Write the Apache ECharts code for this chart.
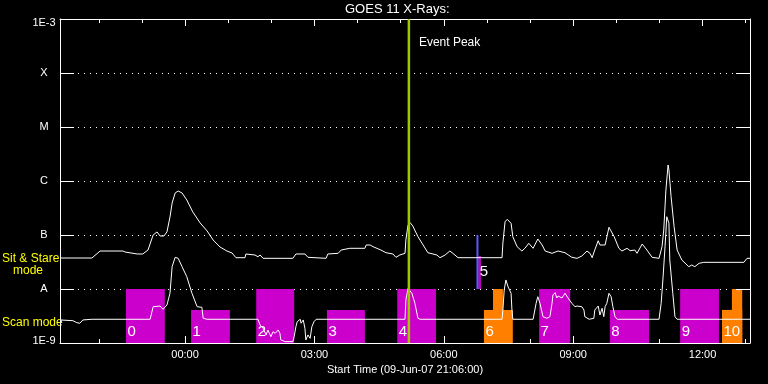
<!DOCTYPE html>
<html>
<head>
<meta charset="utf-8">
<script src="https://cdn.jsdelivr.net/npm/echarts@6/dist/echarts.min.js"></script>
<style>
html,body{margin:0;padding:0;background:#000;}
#chart{width:768px;height:384px;}
</style>
</head>
<body>
<div id="chart"></div>
<script>
// ---- data (time in hours relative to 10-Jun-07 00:00, flux in W/m^2) ----
const titleText = 'GOES 11 X-Rays:';
const xAxisTitle = 'Start Time (09-Jun-07 21:06:00)';
const timeMin = -2.9, timeMax = 13.1;
const xMajorHours = [0, 3, 6, 9, 12];
const xMajorLabels = ['00:00', '03:00', '06:00', '09:00', '12:00'];
const xMinorHours = [-2, -1, 0, 1, 2, 3, 4, 5, 6, 7, 8, 9, 10, 11, 12, 13];
const yTickLabels = ['1E-9', 'A', 'B', 'C', 'M', 'X', '1E-3'];
const fluxMin = 1e-9, fluxMax = 1e-3;

// long-wavelength channel (upper curve)
const longChannel = [
  [-2.90,3.75e-8],[-2.16,3.75e-8],[-2.13,4.08e-8],[-1.97,5.05e-8],[-1.44,5.05e-8],[-1.39,4.84e-8],
  [-1.11,4.45e-8],[-0.98,4.45e-8],[-0.86,5.27e-8],[-0.74,1.0e-7],[-0.65,1.14e-7],[-0.58,9.58e-8],
  [-0.49,9.58e-8],[-0.42,1.14e-7],[-0.35,2.15e-7],[-0.30,3.91e-7],[-0.23,6.0e-7],[-0.16,6.53e-7],
  [-0.07,6.0e-7],[0.04,4.45e-7],[0.18,2.67e-7],[0.35,1.67e-7],[0.51,1.19e-7],[0.65,8.08e-8],
  [0.81,6.0e-8],[0.97,5.05e-8],[1.09,4.64e-8],[1.18,3.80e-8],[1.39,3.80e-8],[1.41,4.45e-8],
  [1.62,4.26e-8],[1.69,3.96e-8],[1.74,4.26e-8],[1.81,3.70e-8],[2.50,3.70e-8],[2.57,4.45e-8],
  [2.78,4.45e-8],[2.85,3.86e-8],[3.27,3.70e-8],[3.31,4.45e-8],[3.55,4.58e-8],[3.62,5.27e-8],
  [3.82,5.67e-8],[4.17,5.67e-8],[4.20,6.53e-8],[4.29,6.53e-8],[4.36,6.07e-8],[4.54,5.27e-8],
  [4.66,4.70e-8],[4.82,4.45e-8],[4.89,3.86e-8],[4.98,4.26e-8],[5.10,4.58e-8],[5.12,8.08e-8],
  [5.17,1.53e-7],[5.22,1.69e-7],[5.28,1.47e-7],[5.40,9.30e-8],[5.52,6.53e-8],[5.63,4.70e-8],
  [5.84,4.26e-8],[5.91,3.80e-8],[6.03,4.26e-8],[6.14,5.05e-8],[6.21,4.58e-8],[6.33,3.80e-8],
  [7.35,3.80e-8],[7.37,7.11e-8],[7.42,1.76e-7],[7.47,1.95e-7],[7.56,1.65e-7],[7.60,9.30e-8],
  [7.70,6.07e-8],[7.81,5.05e-8],[7.88,5.67e-8],[7.97,7.02e-8],[8.07,5.67e-8],[8.18,8.43e-8],
  [8.28,6.53e-8],[8.35,5.05e-8],[8.51,4.58e-8],[8.65,5.05e-8],[8.81,4.70e-8],[8.97,3.86e-8],
  [9.09,3.70e-8],[9.20,4.08e-8],[9.32,5.05e-8],[9.39,4.58e-8],[9.44,3.80e-8],[9.50,5.27e-8],
  [9.58,7.84e-8],[9.62,6.53e-8],[9.74,6.53e-8],[9.83,1.39e-7],[9.95,9.30e-8],[10.06,5.67e-8],
  [10.13,5.05e-8],[10.25,5.67e-8],[10.32,5.12e-8],[10.43,5.27e-8],[10.48,4.58e-8],[10.60,6.81e-8],
  [10.71,5.27e-8],[10.83,3.86e-8],[10.99,3.70e-8],[11.06,6.07e-8],[11.10,1.24e-7],[11.15,6.81e-7],
  [11.20,1.98e-6],[11.22,1.60e-6],[11.27,5.12e-7],[11.34,1.43e-7],[11.41,5.27e-8],[11.52,3.44e-8],
  [11.68,2.59e-8],[11.75,2.78e-8],[11.82,2.59e-8],[11.92,2.99e-8],[12.03,3.12e-8],[12.96,3.12e-8],
  [13.03,3.70e-8],[13.10,3.70e-8]
];

// short-wavelength channel (lower curve)
const shortChannel = [
  [-2.90,2.67e-9],[-2.60,2.59e-9],[-2.51,2.38e-9],[-2.44,2.32e-9],[-2.37,2.67e-9],[-2.16,2.75e-9],
  [-0.81,2.75e-9],[-0.74,4.70e-9],[-0.58,4.84e-9],[-0.51,4.21e-9],[-0.42,5.05e-9],[-0.35,8.33e-9],
  [-0.30,2.59e-8],[-0.23,3.86e-8],[-0.16,3.70e-8],[-0.07,2.59e-8],[0.04,1.69e-8],[0.16,8.33e-9],
  [0.28,4.70e-9],[0.39,4.58e-9],[0.42,2.87e-9],[0.51,2.75e-9],[1.69,2.75e-9],[1.74,2.15e-9],
  [1.81,1.87e-9],[1.88,1.41e-9],[1.92,1.74e-9],[1.99,1.31e-9],[2.04,1.62e-9],[2.09,1.51e-9],
  [2.16,1.74e-9],[2.20,1.51e-9],[2.22,1.14e-9],[2.32,1.06e-9],[2.50,1.06e-9],[2.53,1.31e-9],
  [2.57,2.0e-9],[2.60,2.48e-9],[2.67,2.75e-9],[2.69,2.32e-9],[2.74,2.67e-9],[2.78,1.87e-9],
  [2.80,1.14e-9],[2.85,1.41e-9],[2.90,1.22e-9],[2.94,2.0e-9],[2.99,2.48e-9],[3.04,2.75e-9],
  [5.10,2.75e-9],[5.12,6.26e-9],[5.17,1.03e-8],[5.26,8.33e-9],[5.33,5.43e-9],[5.40,2.87e-9],
  [5.45,2.75e-9],[7.35,2.75e-9],[7.37,4.08e-9],[7.40,9.58e-9],[7.44,1.47e-8],[7.49,1.10e-8],
  [7.56,8.33e-9],[7.58,4.08e-9],[7.60,2.75e-9],[8.07,2.75e-9],[8.14,5.43e-9],[8.18,7.20e-9],
  [8.23,5.43e-9],[8.30,3.07e-9],[8.39,2.87e-9],[8.46,3.07e-9],[8.51,5.43e-9],[8.53,7.74e-9],
  [8.58,8.54e-9],[8.62,6.81e-9],[8.65,7.42e-9],[8.74,6.81e-9],[8.81,8.33e-9],[8.88,6.81e-9],
  [8.97,5.43e-9],[9.04,4.70e-9],[9.09,4.84e-9],[9.20,4.70e-9],[9.25,4.08e-9],[9.27,3.07e-9],
  [9.37,2.75e-9],[9.48,2.87e-9],[9.50,4.08e-9],[9.58,4.84e-9],[9.62,3.30e-9],[9.67,4.39e-9],
  [9.71,3.07e-9],[9.74,4.70e-9],[9.78,5.43e-9],[9.83,8.33e-9],[9.85,8.91e-9],[9.88,7.20e-9],
  [9.92,4.70e-9],[9.97,3.07e-9],[10.02,2.75e-9],[10.99,2.75e-9],[11.04,5.43e-9],[11.08,1.47e-8],
  [11.13,6.07e-8],[11.17,2.18e-7],[11.22,1.65e-7],[11.24,3.44e-8],[11.31,8.33e-9],[11.36,3.07e-9],
  [11.41,2.75e-9],[13.10,2.75e-9]
];

// observation windows
const windowLabel = ['0', '1', '2', '3', '4', '5', '6', '7', '8', '9', '10'];
const windowStart = [-1.37, 0.14, 1.65, 3.29, 4.92, 6.80, 6.93, 8.21, 9.85, 11.48, 12.45];
const windowEnd   = [-0.47, 1.04, 2.53, 4.17, 5.82, 6.86, 7.60, 8.93, 10.76, 12.38, 12.92];
const windowLow   = [1e-9, 1e-9, 1e-9, 1e-9, 1e-9, 1e-8, 1e-9, 1e-9, 1e-9, 1e-9, 1e-9];
const windowHigh  = [1e-8, 4.1e-9, 1e-8, 4.1e-9, 1e-8, 4.1e-8, 4.1e-9, 1e-8, 4.1e-9, 1e-8, 4.1e-9];
const windowKind  = ['m', 'm', 'm', 'm', 'm', 'm', 'o', 'm', 'm', 'm', 'o'];
// extra raised steps inside the orange windows
const stepStart = [7.14, 12.68];
const stepEnd   = [7.37, 12.92];
const stepHigh  = [1e-8, 1e-8];
// markers
const eventPeakHour = 5.19;
const sitStareHour = 6.78;
const sitStareLow = 1e-8, sitStareHigh = 1e-7;

// ---- chart ----
const FONT = 'Liberation Sans, Arial, sans-serif';
const kindColor = { m: '#cc00cc', o: '#ff8000' };
const chart = echarts.init(document.getElementById('chart'), null, { renderer: 'canvas' });

const windowData = windowLabel.map((l, i) => [windowStart[i], windowEnd[i], windowLow[i], windowHigh[i]]);
const stepData = stepStart.map((s, i) => [s, stepEnd[i], 1e-9, stepHigh[i]]);

function rectItem(api, color) {
  const p0 = api.coord([api.value(0), api.value(2)]);
  const p1 = api.coord([api.value(1), api.value(3)]);
  return {
    type: 'rect',
    shape: { x: p0[0], y: p1[1], width: p1[0] - p0[0], height: p0[1] - p1[1] },
    style: { fill: color }
  };
}

const hiddenX = {
  type: 'value', min: timeMin, max: timeMax, splitLine: { show: false },
  axisLabel: { show: false }, axisLine: { show: false }
};

const option = {
  backgroundColor: '#000',
  animation: false,
  grid: { left: 60, top: 19, width: 690, height: 324, containLabel: false },
  graphic: [
    { type: 'text', left: 397 - 52, top: 3, style: { text: titleText, fill: '#fff', font: '13px ' + FONT } },
    { type: 'text', x: 2, y: 259, style: { text: 'Sit & Stare', fill: '#ffff00', font: '12px ' + FONT, verticalAlign: 'middle' } },
    { type: 'text', x: 13, y: 271, style: { text: 'mode', fill: '#ffff00', font: '12px ' + FONT, verticalAlign: 'middle' } },
    { type: 'text', x: 2, y: 323, style: { text: 'Scan mode', fill: '#ffff00', font: '12px ' + FONT, verticalAlign: 'middle' } }
  ],
  xAxis: [
    {
      type: 'value', position: 'bottom', min: timeMin, max: timeMax,
      axisLine: { show: true, onZero: false, lineStyle: { color: '#fff', width: 1 } },
      axisTick: { show: true, inside: true, length: 7, customValues: xMajorHours, lineStyle: { color: '#fff' } },
      axisLabel: {
        show: true, customValues: xMajorHours, color: '#fff', fontSize: 11, fontFamily: FONT, margin: 6,
        formatter: v => xMajorLabels[xMajorHours.indexOf(Math.round(v))] || ''
      },
      splitLine: { show: false },
      name: xAxisTitle, nameLocation: 'middle', nameGap: 20,
      nameTextStyle: { color: '#fff', fontSize: 11, fontFamily: FONT }
    },
    Object.assign({}, hiddenX, { position: 'bottom',
      axisTick: { show: true, inside: true, length: 4, customValues: xMinorHours, lineStyle: { color: '#fff' } } }),
    Object.assign({}, hiddenX, { position: 'top',
      axisLine: { show: true, onZero: false, lineStyle: { color: '#fff', width: 1 } },
      axisTick: { show: true, inside: true, length: 7, customValues: xMajorHours, lineStyle: { color: '#fff' } } }),
    Object.assign({}, hiddenX, { position: 'top',
      axisTick: { show: true, inside: true, length: 4, customValues: xMinorHours, lineStyle: { color: '#fff' } } })
  ],
  yAxis: [
    {
      type: 'log', logBase: 10, min: fluxMin, max: fluxMax, interval: 1, position: 'left',
      axisLine: { show: true, onZero: false, lineStyle: { color: '#fff', width: 1 } },
      axisTick: { show: true, inside: true, length: 14, lineStyle: { color: '#fff' } },
      axisLabel: {
        color: '#fff', fontSize: 11, fontFamily: FONT, align: 'center', margin: 16,
        formatter: v => {
          const k = Math.round(Math.log10(v)) + 9;
          const t = yTickLabels[k] || '';
          if (k === 6) return '{top|' + t + '}';
          if (k === 0) return '{bot|' + t + '}';
          return t;
        },
        rich: {
          top: { color: '#fff', fontSize: 11, fontFamily: FONT, padding: [8, 0, 0, 0] },
          bot: { color: '#fff', fontSize: 11, fontFamily: FONT, padding: [0, 0, 5, 0] }
        }
      },
      splitLine: { show: true, lineStyle: { color: '#fff', width: 1, type: [1, 5] } },
      minorTick: { show: false }
    },
    {
      type: 'log', logBase: 10, min: fluxMin, max: fluxMax, interval: 1, position: 'right',
      axisLine: { show: true, onZero: false, lineStyle: { color: '#fff', width: 1 } },
      axisTick: { show: true, inside: true, length: 14, lineStyle: { color: '#fff' } },
      axisLabel: { show: false },
      splitLine: { show: false }
    }
  ],
  series: [
    {
      type: 'custom', name: 'windows', xAxisIndex: 0, yAxisIndex: 0, z: 1, clip: false,
      encode: { x: [0, 1], y: [2, 3] },
      data: windowData,
      renderItem: (params, api) => {
        const i = params.dataIndex;
        const color = kindColor[windowKind[i]];
        const p0 = api.coord([api.value(0), api.value(2)]);
        const lift = api.value(2) > fluxMin ? 10 : 4;
        return {
          type: 'group',
          children: [
            rectItem(api, color),
            {
              type: 'text', x: p0[0] + 1.5, y: p0[1] - lift, z2: 5,
              style: { text: windowLabel[i], fill: '#fff', font: '15px ' + FONT, align: 'left', verticalAlign: 'bottom' }
            }
          ]
        };
      }
    },
    {
      type: 'custom', name: 'steps', xAxisIndex: 0, yAxisIndex: 0, z: 0, clip: false,
      encode: { x: [0, 1], y: [2, 3] },
      data: stepData,
      renderItem: (params, api) => rectItem(api, kindColor.o)
    },
    {
      type: 'line', name: 'long', data: longChannel, xAxisIndex: 0, yAxisIndex: 0, z: 3,
      symbol: 'none', lineStyle: { color: '#fff', width: 1 }, silent: true
    },
    {
      type: 'line', name: 'short', data: shortChannel, xAxisIndex: 0, yAxisIndex: 0, z: 3,
      symbol: 'none', lineStyle: { color: '#fff', width: 1 }, silent: true
    },
    {
      type: 'custom', name: 'sitstare', xAxisIndex: 0, yAxisIndex: 0, z: 2,
      encode: { x: 0, y: [1, 2] },
      data: [[sitStareHour, sitStareLow, sitStareHigh]],
      renderItem: (params, api) => {
        const a = api.coord([api.value(0), api.value(1)]);
        const b = api.coord([api.value(0), api.value(2)]);
        return { type: 'line', shape: { x1: a[0], y1: a[1], x2: b[0], y2: b[1] }, style: { stroke: '#5a5aff', lineWidth: 2 } };
      }
    },
    {
      type: 'custom', name: 'eventpeak', xAxisIndex: 0, yAxisIndex: 0, z: 4,
      encode: { x: 0, y: 1 },
      data: [[eventPeakHour, fluxMax]],
      renderItem: (params, api) => {
        const top = api.coord([api.value(0), fluxMax]);
        const bot = api.coord([api.value(0), fluxMin]);
        return {
          type: 'group',
          children: [
            { type: 'line', shape: { x1: top[0], y1: top[1], x2: bot[0], y2: bot[1] }, style: { stroke: '#a0c800', lineWidth: 2.5 } },
            { type: 'text', x: top[0] + 10, y: top[1] + 24, style: { text: 'Event Peak', fill: '#fff', font: '12px ' + FONT, verticalAlign: 'middle' } }
          ]
        };
      }
    }
  ]
};
chart.setOption(option);
</script>
</body>
</html>
